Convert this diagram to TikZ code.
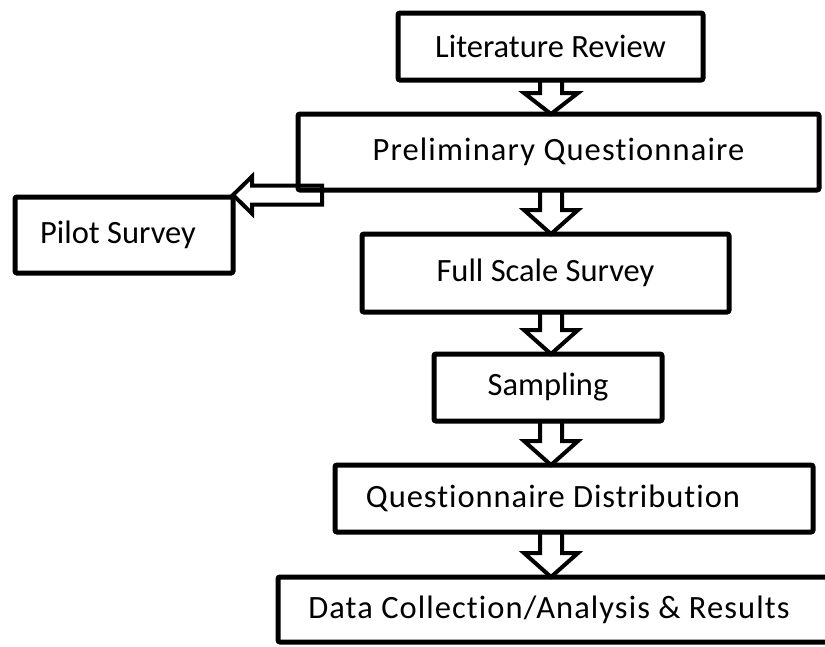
\documentclass[tikz,border=0pt]{standalone}
\usepackage{fontspec}
\setmainfont[Ligatures=NoCommon]{Carlito}
\usetikzlibrary{calc,backgrounds}
\tikzset{
  box/.style={draw=black, line width=5pt, rounded corners=2pt, inner sep=0pt, outer sep=0pt,
    font=\fontsize{32.5}{37}\selectfont, align=center},
  blockarrow/.style={draw=black, fill=white, line width=4pt, line join=miter}
}
\newcommand\blockdown[3]{%
  \draw[blockarrow] let \p1=(ax |- #1.south), \p2=(ax |- #2.north) in
    (\x1-11pt,\y1) -- (\x1-11pt,\y2+#3) -- (\x1-27pt,\y2+#3) -- (\x1,\y2)
    -- (\x1+27pt,\y2+#3) -- (\x1+11pt,\y2+#3) -- (\x1+11pt,\y1) -- cycle;}
\newcommand\spaced[2]{{\addfontfeature{LetterSpace=#1}#2}}
\begin{document}
\begin{tikzpicture}[x=1pt,y=-1pt]
\useasboundingbox (0,0) rectangle (825,646);
\coordinate (ax) at (551,0);
\node[box, minimum width=305pt, minimum height=67pt] (lit) at (550.5,46.5) {Literature Review};
\node[box, minimum width=521pt, minimum height=76pt] (prelim) at (558.5,152) {\spaced{3.5}{Preliminary Questionnaire}};
\node[box, minimum width=218pt, minimum height=76pt] (pilot) at (124,235) {Pilot Survey\hspace*{12pt}};
\node[box, minimum width=367pt, minimum height=78pt] (full) at (545.5,273) {Full Scale Survey};
\node[box, minimum width=228pt, minimum height=67pt] (samp) at (548,387.5) {Sampling};
\node[box, minimum width=478pt, minimum height=67pt] (qd) at (574,498.5) {\spaced{3}{Questionnaire Distribution}\hspace*{42pt}};
\node[box, minimum width=562pt, minimum height=65pt] (data) at (559,609.5) {\spaced{3.3}{Data Collection/Analysis \& Results}\hspace*{20pt}};
\begin{pgfonlayer}{background}
\blockdown{lit}{prelim}{21pt}
\blockdown{prelim}{full}{24pt}
\blockdown{full}{samp}{24pt}
\blockdown{samp}{qd}{24pt}
\blockdown{qd}{data}{24pt}
\draw[blockarrow] let \p1=(pilot.north east), \p2=(prelim.south west) in
  (\x1,\y1+2pt) -- (\x1+19pt,\y1+20.5pt) -- (\x1+19pt,\y1+11.5pt) -- (\x2+24pt,\y1+11.5pt)
  -- (\x2+24pt,\y1-7.5pt) -- (\x1+19pt,\y1-7.5pt) -- (\x1+19pt,\y1-16.5pt) -- cycle;
\end{pgfonlayer}
\end{tikzpicture}
\end{document}
